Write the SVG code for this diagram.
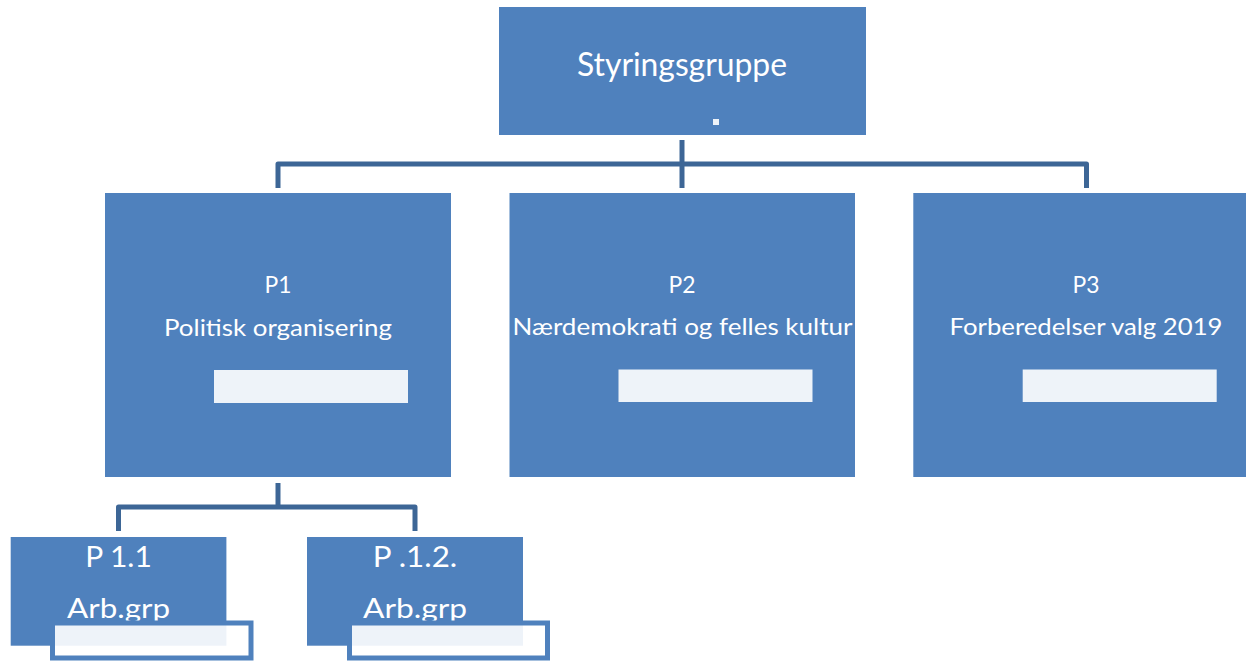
<svg xmlns="http://www.w3.org/2000/svg" width="1246" height="661" viewBox="0 0 1246 661">
<style>
.box{fill:#4F81BD;}
.tb{fill:#FFFFFF;fill-opacity:0.9;}
.tbo{fill:#FFFFFF;fill-opacity:0.9;stroke:#4F81BD;stroke-width:5;}
.con{fill:none;stroke:#3D6696;stroke-width:5;stroke-linejoin:round;}
text{font-family:Lato,"Open Sans","Liberation Sans",sans-serif;fill:#FFFFFF;text-anchor:middle;}
</style>
<rect width="1246" height="661" fill="#FFFFFF"/>
<g id="connectors">
<path class="con" d="M682,140 V188"/>
<path class="con" d="M278,188 V164 H1086.5 V188"/>
<path class="con" d="M278,483 V507"/>
<path class="con" d="M118.5,531 V507 H415 V531"/>
</g>
<g id="styringsgruppe">
<rect class="box" x="499" y="7" width="367" height="128"/>
<text x="682" y="76" font-size="33" textLength="210" lengthAdjust="spacingAndGlyphs">Styringsgruppe</text>
<rect class="tb" x="713" y="119" width="6" height="6"/>
</g>
<g id="p1">
<rect class="box" x="105" y="193" width="346" height="284"/>
<text x="278" y="293.3" font-size="24" textLength="27" lengthAdjust="spacingAndGlyphs">P1</text>
<text x="278" y="335.5" font-size="24" textLength="228" lengthAdjust="spacingAndGlyphs">Politisk organisering</text>
<rect class="tb" x="214" y="370" width="194" height="33"/>
</g>
<g id="p2">
<rect class="box" x="509.5" y="193" width="345.5" height="284"/>
<text x="682" y="293" font-size="24" textLength="27" lengthAdjust="spacingAndGlyphs">P2</text>
<text x="682.5" y="334.5" font-size="24" textLength="340" lengthAdjust="spacingAndGlyphs">Nærdemokrati og felles kultur</text>
<rect class="tb" x="618.5" y="369.5" width="194" height="32.5"/>
</g>
<g id="p3">
<rect class="box" x="913.3" y="193" width="346" height="284"/>
<text x="1086" y="293.3" font-size="24" textLength="27" lengthAdjust="spacingAndGlyphs">P3</text>
<text x="1086" y="335" font-size="24" textLength="273" lengthAdjust="spacingAndGlyphs">Forberedelser valg 2019</text>
<rect class="tb" x="1022.7" y="369.5" width="194" height="32.5"/>
</g>
<g id="p11">
<rect class="box" x="10.7" y="537" width="215.7" height="108.7"/>
<text x="118.5" y="566.7" font-size="28" textLength="66.7" lengthAdjust="spacingAndGlyphs">P 1.1</text>
<text x="118.5" y="617.5" font-size="27" textLength="103" lengthAdjust="spacingAndGlyphs">Arb.grp</text>
<rect class="tbo" x="52.5" y="623" width="198.5" height="35"/>
</g>
<g id="p12">
<rect class="box" x="307" y="537" width="216" height="108.7"/>
<text x="415" y="566.7" font-size="28" textLength="84.5" lengthAdjust="spacingAndGlyphs">P .1.2.</text>
<text x="415" y="617.5" font-size="27" textLength="104" lengthAdjust="spacingAndGlyphs">Arb.grp</text>
<rect class="tbo" x="349.5" y="623" width="198" height="35"/>
</g>
</svg>
